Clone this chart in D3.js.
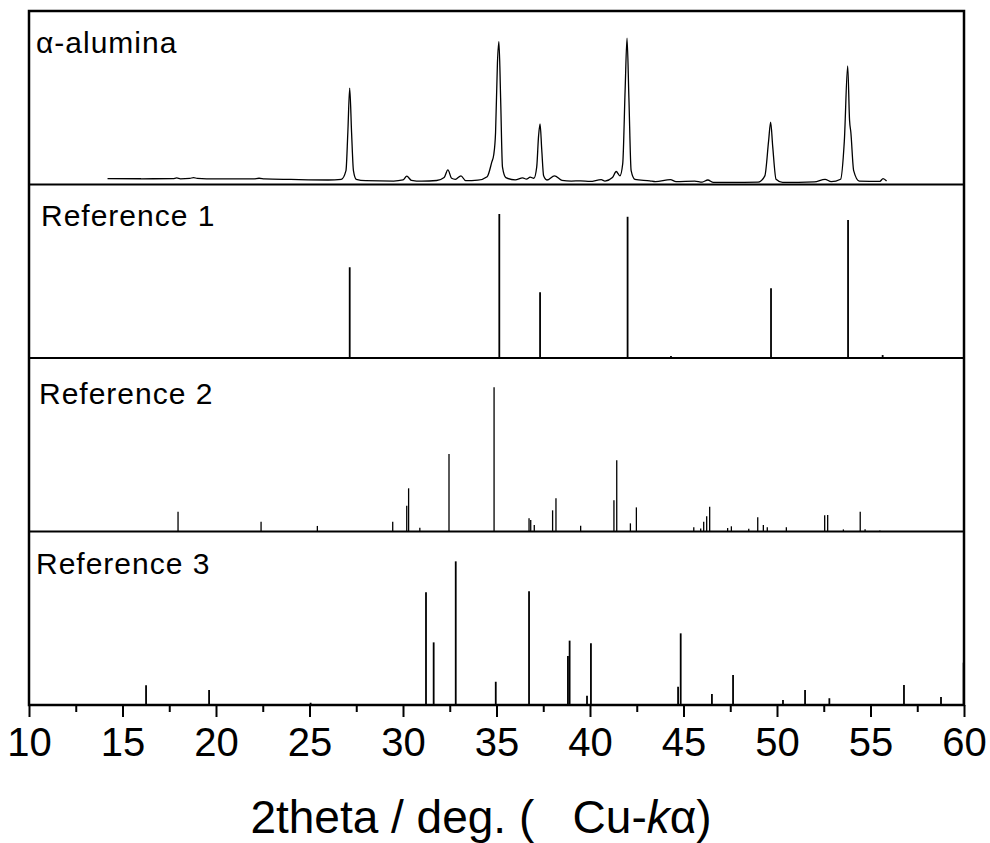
<!DOCTYPE html>
<html>
<head>
<meta charset="utf-8">
<script src="https://cdn.jsdelivr.net/npm/d3@7"></script>
<style>
	body { margin: 0; background: white; }
	text { font-family: "Liberation Sans", Arial, sans-serif; fill: black; }
</style>
</head>
<body>
<svg id="xrdSvg" width="990" height="843"></svg>
<script>
// panel names, top to bottom
const panelNames = ["α-alumina", "Reference 1", "Reference 2", "Reference 3"];

// measured pattern of alpha-alumina (2theta, relative intensity 0-100 of panel height)
const alumina2theta = [
	14.2, 16.0, 17.7, 17.9, 18.1, 18.6, 18.8, 19.0, 20.0, 22.0, 22.3, 22.6, 24.0,
	26.0, 26.7, 26.95, 27.05, 27.15, 27.25, 27.35, 27.5, 28.0, 29.5, 30.0, 30.2,
	30.45, 31.0, 31.8, 32.2, 32.4, 32.6, 32.8, 33.1, 33.35, 34.0, 34.5, 34.75,
	34.85, 34.95, 35.05, 35.13, 35.22, 35.32, 35.5, 36.0, 36.4, 36.6, 36.8, 37.0,
	37.15, 37.25, 37.33, 37.42, 37.52, 37.7, 38.1, 38.5, 39.0, 39.5, 40.0, 40.6,
	40.8, 41.2, 41.4, 41.6, 41.75, 41.88, 41.98, 42.08, 42.2, 42.4, 43.2, 43.5,
	44.3, 44.6, 45.6, 46.0, 46.3, 46.6, 47.5, 49.0, 49.35, 49.55, 49.66, 49.77,
	49.95, 50.3, 52.0, 52.57, 52.9, 53.4, 53.6, 53.78, 53.88, 53.95, 54.1, 54.4,
	55.5, 55.67, 55.86,
];
const aluminaIntensity = [
	3.4, 3.3, 3.4, 3.8, 3.3, 3.5, 4.0, 3.5, 3.2, 3.2, 3.6, 3.2, 2.9,
	2.6, 3.0, 8, 30, 55.6, 30, 8, 3.0, 2.2, 2.0, 2.6, 4.8,
	2.4, 1.9, 2.3, 4.0, 8.4, 3.6, 3.0, 5.0, 2.2, 2.5, 4.5, 13,
	17, 30, 70, 82.3, 50, 10, 4.0, 2.7, 3.8, 3.1, 4.2, 3.6,
	10, 28, 34.9, 20, 5, 2.6, 5.0, 2.4, 2.0, 2.1, 1.8, 2.8,
	2.0, 4.0, 7.5, 5.0, 12, 55, 84.3, 50, 8, 3.0, 2.1, 1.6,
	2.8, 1.6, 2.0, 1.4, 2.6, 1.2, 1.2, 1.4, 5, 25, 36, 22,
	3, 1.2, 1.5, 3.0, 1.6, 3.0, 25, 68.3, 37, 30, 8, 2.0,
	1.8, 3.4, 2.0,
];

// reference stick patterns
const ref1Theta = [27.15, 35.15, 37.33, 42.01, 44.33, 49.68, 53.8, 55.65];
const ref1Intensity = [52.3, 83, 37.9, 81.4, 1.2, 40.2, 79.5, 1.7];

const ref2Theta = [
	17.97, 22.41, 25.42, 29.45, 30.2, 30.3, 30.9, 32.46, 34.87, 36.74, 36.83,
	37.02, 38.0, 38.18, 39.5, 41.28, 41.43, 42.16, 42.48, 45.55, 45.92, 46.08,
	46.24, 46.4, 47.36, 47.56, 48.49, 48.97, 49.27, 49.48, 50.5, 52.55, 52.71,
	53.55, 54.45, 54.71, 55.5,
];
const ref2Intensity = [
	11.4, 5.6, 3.2, 5.6, 14.9, 24.9, 2.2, 44.7, 83.1, 7.6, 6.6,
	3.7, 12.2, 19.1, 3.3, 18, 41, 4.7, 13.9, 2.4, 1.8, 5.6,
	8.8, 14.3, 2, 3, 1.6, 8.2, 3.7, 2.4, 2.4, 9.3, 9.5,
	1.2, 11.4, 1.3, 0.6,
];

const ref3Theta = [
	16.26, 19.63, 25.06, 31.23, 31.64, 32.82, 34.96, 36.74, 38.82, 38.91, 39.84,
	40.05, 44.71, 44.85, 46.52, 47.65, 50.32, 51.5, 52.8, 56.79, 58.77, 59.98,
];
const ref3Intensity = [
	11.4, 8.6, 1.3, 65, 36.1, 82.8, 13.4, 65.5, 28.2, 37.1, 5.4,
	35.6, 10.5, 41.3, 6.3, 17.3, 2.9, 8.6, 3.9, 11.5, 4.6, 24.4,
];

// axis ticks
const majorTicks = [10, 15, 20, 25, 30, 35, 40, 45, 50, 55, 60];
const minorTicks = [12.5, 17.5, 22.5, 27.5, 32.5, 37.5, 42.5, 47.5, 52.5, 57.5];

const svg = d3.select("svg#xrdSvg");

const margin = { top: 11, right: 26, bottom: 138, left: 29 };
const width = +svg.attr("width");
const height = +svg.attr("height");
const chartRight = width - margin.right;
const chartBottom = height - margin.bottom;

const xScale = d3.scaleLinear().domain([10, 60]).range([margin.left, chartRight]);

const panelScale = d3
	.scaleBand()
	.domain(panelNames)
	.range([margin.top, chartBottom])
	.paddingInner(0);

function yScaleFor(name) {
	const top = panelScale(name);
	return d3
		.scaleLinear()
		.domain([0, 100])
		.range([top + panelScale.bandwidth(), top]);
}

// ====================PATTERNS==========================

// alpha-alumina measured trace
const yAl = yScaleFor(panelNames[0]);
svg
	.append("path")
	.datum(d3.range(alumina2theta.length))
	.attr("fill", "none")
	.attr("stroke", "black")
	.attr("stroke-width", 1.3)
	.attr("stroke-linejoin", "round")
	.attr(
		"d",
		d3
			.line()
			.curve(d3.curveMonotoneX)
			.x((i) => xScale(alumina2theta[i]))
			.y((i) => yAl(aluminaIntensity[i]))
	);

// reference sticks
function drawSticks(name, thetas, intensities, strokeWidth) {
	const y = yScaleFor(name);
	svg
		.append("g")
		.selectAll("line")
		.data(thetas)
		.join("line")
		.attr("x1", (d) => xScale(d))
		.attr("x2", (d) => xScale(d))
		.attr("y1", y(0))
		.attr("y2", (d, i) => y(intensities[i]))
		.attr("stroke", "black")
		.attr("stroke-width", strokeWidth);
}

drawSticks(panelNames[1], ref1Theta, ref1Intensity, 1.8);
drawSticks(panelNames[2], ref2Theta, ref2Intensity, 1.3);
drawSticks(panelNames[3], ref3Theta, ref3Intensity, 1.8);

// ====================FRAME + LABELS==========================

// panel dividers
svg
	.append("g")
	.selectAll("line")
	.data(panelNames.slice(1))
	.join("line")
	.attr("x1", margin.left)
	.attr("x2", chartRight)
	.attr("y1", (d) => panelScale(d))
	.attr("y2", (d) => panelScale(d))
	.attr("stroke", "black")
	.attr("stroke-width", 2.2);

svg
	.append("rect")
	.attr("x", margin.left)
	.attr("y", margin.top)
	.attr("width", chartRight - margin.left)
	.attr("height", chartBottom - margin.top)
	.attr("fill", "none")
	.attr("stroke", "black")
	.attr("stroke-width", 2.5);

// panel labels
const labelOffsets = [
	{ dx: 7, dy: 42 },
	{ dx: 12, dy: 41.5 },
	{ dx: 10, dy: 46 },
	{ dx: 7, dy: 42.5 },
];
svg
	.append("g")
	.selectAll("text")
	.data(panelNames)
	.join("text")
	.attr("x", (d, i) => margin.left + labelOffsets[i].dx)
	.attr("y", (d, i) => panelScale(d) + labelOffsets[i].dy)
	.attr("font-size", 30)
	.attr("letter-spacing", 1)
	.text((d) => d);

// ====================X AXIS==========================

const minorAxis = d3
	.axisBottom(xScale)
	.tickValues(minorTicks)
	.tickSize(7)
	.tickFormat("");
svg
	.append("g")
	.attr("transform", `translate(0,${chartBottom})`)
	.call(minorAxis)
	.call((g) => g.select(".domain").remove())
	.call((g) => g.selectAll("line").attr("stroke", "black").attr("stroke-width", 2));

const majorAxis = d3
	.axisBottom(xScale)
	.tickValues(majorTicks)
	.tickSize(12)
	.tickPadding(11)
	.tickFormat(d3.format("d"));
svg
	.append("g")
	.attr("transform", `translate(0,${chartBottom})`)
	.call(majorAxis)
	.call((g) => g.select(".domain").remove())
	.call((g) => g.selectAll("line").attr("stroke", "black").attr("stroke-width", 2))
	.call((g) =>
		g
			.selectAll("text")
			.attr("font-size", 40)
			.attr("font-family", '"Liberation Sans", Arial, sans-serif')
			.attr("fill", "black")
	);

// axis title
const title = svg
	.append("text")
	.attr("x", 481)
	.attr("y", 833)
	.attr("text-anchor", "middle")
	.attr("font-size", 46)
	.style("white-space", "pre");
title.append("tspan").text("2theta / deg. (   Cu-");
title.append("tspan").attr("font-style", "italic").text("k");
title.append("tspan").text("α)");
</script>
</body>
</html>
